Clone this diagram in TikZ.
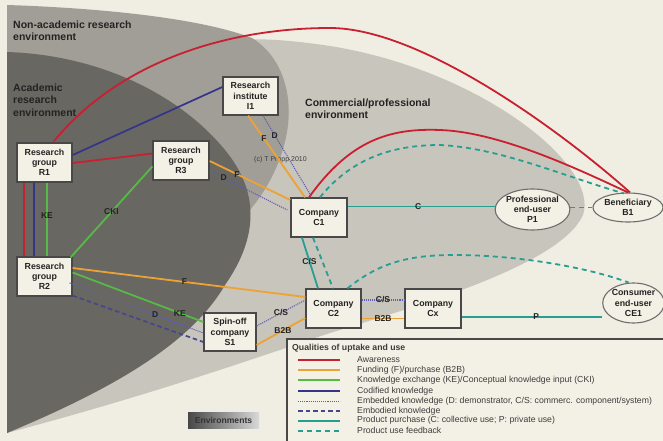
\documentclass[tikz,border=0pt]{standalone}
\usepackage{fontspec}
\setmainfont{Liberation Sans}
\usetikzlibrary{calc,shapes.geometric}
\definecolor{bgc}{RGB}{240,238,226}
\definecolor{medgray}{RGB}{160,158,150}
\definecolor{darkgray}{RGB}{104,103,97}
\definecolor{commgray}{RGB}{200,197,188}
\definecolor{nodefill}{RGB}{243,241,229}
\definecolor{boxborder}{RGB}{72,72,72}
\definecolor{ovalborder}{RGB}{110,110,110}
\definecolor{awred}{RGB}{200,32,48}
\definecolor{fundor}{RGB}{236,162,52}
\definecolor{kegreen}{RGB}{88,185,72}
\definecolor{codblue}{RGB}{52,52,140}
\definecolor{embpurple}{RGB}{95,95,175}
\definecolor{bodblue}{RGB}{70,70,140}
\definecolor{teal}{RGB}{38,158,146}
\definecolor{txtdark}{RGB}{35,35,35}
\definecolor{lgtext}{RGB}{60,60,60}
\newcommand\nodefnt{\fontsize{8.8}{10.3}\selectfont\bfseries}
\newcommand\envfnt{\fontsize{10.5}{12.4}\selectfont\bfseries}
\newcommand\lblfnt{\fontsize{8.5}{9}\selectfont\bfseries}
\newcommand\lgfnt{\fontsize{8.7}{10}\selectfont}
\begin{document}
\begin{tikzpicture}[x=1pt,y=-1pt,
  box/.style={rectangle,draw=boxborder,line width=1.3pt,fill=nodefill,inner sep=0pt,align=center,font=\nodefnt,text=txtdark,minimum width=55pt,minimum height=39pt},
  oval/.style={ellipse,draw=ovalborder,line width=1.1pt,fill=nodefill,inner sep=0pt,align=center,font=\nodefnt,text=txtdark},
  lbl/.style={font=\lblfnt,inner sep=0.5pt,text=txtdark},
  envlbl/.style={font=\envfnt,inner sep=0pt,align=left,anchor=west,text=txtdark},
  lgtxt/.style={font=\lgfnt,inner sep=0pt,anchor=west,text=lgtext},
  aware/.style={draw=awred,line width=1.8pt},
  fundl/.style={draw=fundor,line width=1.8pt},
  kel/.style={draw=kegreen,line width=1.8pt},
  codl/.style={draw=codblue,line width=1.7pt},
  embl/.style={draw=embpurple,line width=1.1pt,densely dotted},
  bodl/.style={draw=bodblue,line width=1.7pt,dash pattern=on 4.5pt off 3pt},
  prodl/.style={draw=teal,line width=1.8pt},
  fbl/.style={draw=teal,line width=1.8pt,dash pattern=on 5pt off 4pt}
]
\useasboundingbox (0,0) rectangle (663,441);
\fill[bgc] (0,0) rectangle (663,441);
% environments
\fill[commgray] (7,433) .. controls (150,395) and (250,360) .. (330,333)
  .. controls (420,305) and (560,265) .. (583,215)
  .. controls (600,165) and (480,70) .. (330,46)
  .. controls (290,40) and (260,38) .. (230,40) -- (200,150) -- cycle;
\fill[medgray] (7,433) -- (7,5) .. controls (100,8) and (200,18) .. (252,38)
  .. controls (280,55) and (292,90) .. (288,125)
  .. controls (284,160) and (265,195) .. (245,215) -- (180,320) -- cycle;
\fill[darkgray] (7,433) .. controls (110,390) and (190,345) .. (225,285)
  .. controls (260,235) and (258,190) .. (225,150)
  .. controls (180,95) and (100,55) .. (7,52) -- cycle;
% environment labels
\node[envlbl] (envNA) at (13,31) {Non-academic research\\environment};
\node[envlbl] (envA) at (13,100) {Academic\\research\\environment};
\node[envlbl] (envC) at (305,109) {Commercial/professional\\environment};
\node[inner sep=0pt,anchor=west,font=\fontsize{7}{8}\selectfont,text=lgtext] (copy) at (254,160) {(c) T Propp 2010};
% legend box
\fill[nodefill] (287,339) rectangle (663,441);
\draw[boxborder,line width=1.1pt] (287,441) |- (663,339);
\node[lgtxt] (lgt) at (292,348) {\bfseries Qualities of uptake and use};
\draw[aware] (298,360) -- (340,360);
\draw[fundl] (298,370.3) -- (340,370.3);
\draw[kel] (298,380.3) -- (340,380.3);
\draw[codl] (298,391.3) -- (340,391.3);
\draw[embl] (298,401.3) -- (340,401.3);
\draw[bodl] (298,410.8) -- (340,410.8);
\draw[prodl] (298,420.6) -- (340,420.6);
\draw[fbl] (298,430.6) -- (340,430.6);
\node[lgtxt] (lg1) at (357,359.5) {Awareness};
\node[lgtxt] (lg2) at (357,370.5) {Funding (F)/purchase (B2B)};
\node[lgtxt] (lg3) at (357,380.3) {Knowledge exchange (KE)/Conceptual knowledge input (CKI)};
\node[lgtxt] (lg4) at (357,391.5) {Codified knowledge};
\node[lgtxt] (lg5) at (357,401.5) {Embedded knowledge (D: demonstrator, C/S: commerc. component/system)};
\node[lgtxt] (lg6) at (357,411) {Embodied knowledge};
\node[lgtxt] (lg7) at (357,420.7) {Product purchase (C: collective use; P: private use)};
\node[lgtxt] (lg8) at (357,430.7) {Product use feedback};
% environments key
\node[inner sep=0pt,minimum width=71pt,minimum height=16pt,left color=black!72,right color=black!15,font=\fontsize{8.6}{10}\selectfont\bfseries,text=black!80] (envkey) at (223.5,420) {Environments};
% nodes
\node[box] (R1) at (44.5,162.5) {Research\\group\\R1};
\node[box,minimum width=56pt] (R3) at (181,160.5) {Research\\group\\R3};
\node[box,minimum height=38pt] (I1) at (250.5,96) {Research\\institute\\I1};
\node[box] (R2) at (44.5,276.5) {Research\\group\\R2};
\node[box,minimum width=56pt,minimum height=39pt] (C1) at (319,217.5) {Company\\C1};
\node[box] (C2) at (333.5,308.5) {Company\\C2};
\node[box,minimum width=56pt] (Cx) at (433,308.5) {Company\\Cx};
\node[box,minimum width=52pt,minimum height=38pt] (S1) at (230,332) {Spin-off\\company\\S1};
\node[oval,minimum width=69pt,minimum height=41pt] (P1) at (532.5,209.5) {Professional\\end-user\\P1};
\node[oval,minimum width=70pt,minimum height=29pt] (B1) at (628,207.5) {Beneficiary\\B1};
\node[oval,minimum width=57pt,minimum height=40pt] (CE1) at (633.5,303) {Consumer\\end-user\\CE1};
% awareness
\draw[aware] ($(R1.east)+(0,0.5)$) -- ($(R3.west)+(0,-7)$);
\draw[aware] ($(R1.north)+(8.5,0)$) .. controls (120,60) and (230,28) .. (330,28)
  .. controls (420,28) and (560,130) .. ($(B1.north)+(2,0)$);
\draw[aware] ($(C1.north)+(-10,0)$) .. controls (350,140) and (390,128) .. (440,130)
  .. controls (500,132) and (580,170) .. ($(B1.north)+(0,0)$);
\draw[aware] ($(R1.south)+(-20.5,0)$) -- ($(R2.north)+(-20.5,0)$);
% codified
\draw[codl] ($(R1.east)+(0,-7.5)$) -- ($(I1.west)+(0,-9)$);
\draw[codl] ($(R1.south)+(-10.5,0)$) -- ($(R2.north)+(-10.5,0)$);
% knowledge exchange
\draw[kel] ($(R1.south)+(2.5,0)$) -- node[lbl,pos=0.44]{KE} ($(R2.north)+(2.5,0)$);
\draw[kel] ($(R2.north east)+(-2,1)$) -- node[lbl]{CKI} ($(R3.west)+(0,6)$);
\draw[kel] ($(R2.east)+(0,-4)$) -- node[lbl,pos=0.82]{KE} ($(S1.west)+(0,-10)$);
% funding
\draw[fundl] ($(I1.south)+(-2.5,0)$) -- node[lbl,pos=0.28]{F} ($(C1.north)+(-14,0)$);
\draw[fundl] ($(R3.east)+(0,0.5)$) -- node[lbl,pos=0.34]{F} ($(C1.west)+(0,-17.5)$);
\draw[fundl] ($(R2.east)+(0,-8.5)$) -- node[lbl,pos=0.48]{F} ($(C2.west)+(0,-11.5)$);
\draw[fundl] ($(S1.east)+(0,13)$) -- node[lbl,pos=0.54]{B2B} ($(C2.west)+(0,9.5)$);
\draw[fundl] ($(C2.east)+(0,10)$) -- node[lbl]{B2B} ($(Cx.west)+(0,10)$);
% embedded
\draw[embl] ($(I1.south)+(12.5,0)$) -- node[lbl,pos=0.24]{D} ($(C1.north)+(-7,0)$);
\draw[embl] ($(R3.east)+(0,10.5)$) -- node[lbl,pos=0.18]{D} ($(C1.west)+(-3,-7.5)$);
\draw[embl] ($(R2.east)+(-3,6.5)$) -- node[lbl,pos=0.64]{D} ($(S1.west)+(0,1)$);
\draw[embl] ($(S1.east)+(0,-6)$) -- node[lbl]{C/S} ($(C2.west)+(0,-8.5)$);
\draw[embl] ($(C2.east)+(0,-8.5)$) -- node[lbl]{C/S} ($(Cx.west)+(0,-8.5)$);
% embodied
\draw[bodl] ($(R2.south east)+(0,-1)$) -- ($(S1.west)+(0,10)$);
% product purchase
\draw[prodl] ($(C1.east)+(0,-11)$) -- node[lbl,pos=0.48]{C} ($(P1.west)+(0,-3)$);
\draw[prodl] ($(C1.south)+(-17,0)$) -- node[lbl,pos=0.47]{C/S} ($(C2.north)+(-15.5,0)$);
\draw[prodl] ($(Cx.east)+(0,8.5)$) -- node[lbl,pos=0.53]{P} ($(CE1.west)+(0,14)$);
% feedback
\draw[fbl] ($(C1.north)+(1,0)$) .. controls (350,160) and (390,145) .. (440,145)
  .. controls (500,148) and (560,175) .. ($(B1.north)+(-4,1)$);
\draw[fbl] ($(P1.east)+(0,-2)$) -- (B1.west);
\draw[fbl] ($(C1.south)+(-6,0)$) -- ($(C2.north)+(-0.5,0)$);
\draw[fbl] ($(C2.north)+(14,0)$) .. controls (380,262) and (410,255) .. (455,255)
  .. controls (510,255) and (580,265) .. ($(CE1.north)+(-5,0)$);
\end{tikzpicture}
\end{document}
